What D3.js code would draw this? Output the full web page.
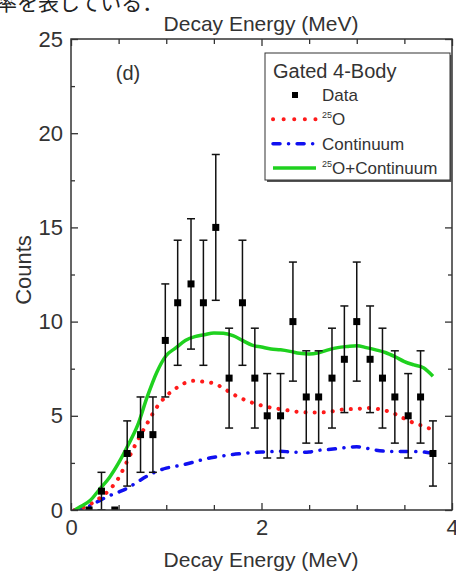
<!DOCTYPE html>
<html>
<head>
<meta charset="utf-8">
<script src="https://cdn.jsdelivr.net/npm/d3@7"></script>
<style>
  body { margin: 0; background: #fff; }
  svg { display: block; font-family: "Liberation Sans", Arial, sans-serif; }
</style>
</head>
<body>
<svg id="chart"></svg>
<script>
// data
var dataE  = [0.19, 0.32, 0.46, 0.59, 0.73, 0.86, 0.99, 1.12, 1.26, 1.39, 1.52, 1.66, 1.80, 1.93,
              2.06, 2.20, 2.33, 2.47, 2.60, 2.74, 2.87, 3.00, 3.14, 3.27, 3.40, 3.54, 3.67, 3.80];
var counts = [0, 1, 0, 3, 4, 4, 9, 11, 12, 11, 15, 7, 11, 7,
              5, 5, 10, 6, 6, 7, 8, 10, 8, 7, 6, 5, 6, 3];
var errs   = [0, 1, 0, 1.73, 2, 2, 3, 3.32, 3.46, 3.32, 3.87, 2.65, 3.32, 2.65,
              2.24, 2.24, 3.16, 2.45, 2.45, 2.65, 2.83, 3.16, 2.83, 2.65, 2.45, 2.24, 2.45, 1.73];

var fitE = [0.04, 0.1, 0.2, 0.3, 0.4, 0.5, 0.6, 0.7, 0.8, 0.9, 1.0, 1.1, 1.2, 1.3, 1.4, 1.5, 1.6, 1.7, 1.8, 1.9,
            2.0, 2.1, 2.2, 2.3, 2.4, 2.5, 2.6, 2.7, 2.8, 2.9, 3.0, 3.1, 3.2, 3.3, 3.4, 3.5, 3.6, 3.7, 3.8];
var fit25O = [0, 0.08, 0.3, 0.63, 1.05, 1.7, 2.7, 3.7, 4.6, 5.45, 6.05, 6.45, 6.75, 6.86, 6.8, 6.72, 6.46, 6.15, 5.9, 5.7,
              5.55, 5.43, 5.35, 5.27, 5.2, 5.18, 5.18, 5.2, 5.3, 5.35, 5.36, 5.42, 5.38, 5.28, 5.1, 4.85, 4.62, 4.45, 4.25];
var fitCont = [0, 0.07, 0.22, 0.5, 0.75, 0.95, 1.18, 1.5, 1.8, 2.05, 2.22, 2.32, 2.43, 2.56, 2.7, 2.8, 2.88, 2.95, 3.0, 3.05,
               3.08, 3.1, 3.12, 3.08, 3.06, 3.08, 3.17, 3.21, 3.26, 3.32, 3.36, 3.28, 3.18, 3.12, 3.1, 3.1, 3.1, 3.08, 3.0];
var fitSum = [0, 0.18, 0.5, 1.1, 1.7, 2.5, 3.45, 4.5, 6.0, 7.3, 8.2, 8.6, 9.0, 9.2, 9.3, 9.4, 9.38, 9.25, 9.0, 8.75,
              8.65, 8.55, 8.5, 8.42, 8.32, 8.28, 8.35, 8.5, 8.62, 8.68, 8.72, 8.62, 8.5, 8.36, 8.14, 7.88, 7.7, 7.55, 7.1];

var xTicks = [0, 2, 4];
var xMinor = [0.5, 1, 1.5, 2.5, 3, 3.5];
var yTicks = [0, 5, 10, 15, 20, 25];
var yMinor = [2.5, 7.5, 12.5, 17.5, 22.5];

var legendItems = ["Data", "O", "Continuum", "O+Continuum"];

var W = 456, H = 574;
var pL = 71, pR = 452, pT = 39, pB = 510;

var svg = d3.select("#chart").attr("width", W).attr("height", H);

var x = d3.scaleLinear().domain([0, 4]).range([pL, pR]);
var y = d3.scaleLinear().domain([0, 25]).range([pB, pT]);

// cut-off line of document text above the figure
svg.append("text")
  .attr("x", -4).attr("y", 10)
  .attr("font-family", "'Noto Sans CJK JP', sans-serif")
  .attr("font-size", 21).attr("fill", "#222")
  .text("率を表している．");

svg.append("defs").append("clipPath").attr("id", "plot")
  .append("rect").attr("x", pL).attr("y", pT)
  .attr("width", pR - pL).attr("height", pB - pT);

// curves
var line = d3.line()
  .x(function(d, i) { return x(fitE[i]); })
  .y(function(d) { return y(d); })
  .curve(d3.curveMonotoneX);

var curves = svg.append("g").attr("clip-path", "url(#plot)").attr("fill", "none");
curves.append("path").datum(fitCont).attr("d", line)
  .attr("stroke", "#1010f0").attr("stroke-width", 3.5)
  .attr("stroke-linecap", "round").attr("stroke-dasharray", "7 8.5 0.1 8.5");
curves.append("path").datum(fit25O).attr("d", line)
  .attr("stroke", "#ff1a1a").attr("stroke-width", 4)
  .attr("stroke-linecap", "round").attr("stroke-dasharray", "0.1 9");
curves.append("path").datum(fitSum).attr("d", line)
  .attr("stroke", "#1fd11f").attr("stroke-width", 3.5);

// data with error bars
var pts = svg.append("g").attr("clip-path", "url(#plot)")
  .selectAll("g").data(counts).enter().append("g");

pts.each(function(d, i) {
  var g = d3.select(this);
  var cx = x(dataE[i]);
  if (errs[i] > 0) {
    var y1 = y(d + errs[i]), y2 = y(d - errs[i]);
    g.append("line").attr("x1", cx).attr("x2", cx).attr("y1", y1).attr("y2", y2);
    g.append("line").attr("x1", cx - 4).attr("x2", cx + 4).attr("y1", y1).attr("y2", y1);
    g.append("line").attr("x1", cx - 4).attr("x2", cx + 4).attr("y1", y2).attr("y2", y2);
  }
  g.selectAll("line").attr("stroke", "#111").attr("stroke-width", 1.5);
  g.append("rect").attr("x", cx - 3.5).attr("y", y(d) - 3.5)
    .attr("width", 7).attr("height", 7).attr("fill", "#000");
});

// axes
function styleAxis(g) {
  g.select(".domain").remove();
  g.selectAll("line").attr("stroke", "#333").attr("stroke-width", 1.3);
  g.selectAll("text").attr("fill", "#333").attr("font-size", 22)
    .attr("font-family", "'Liberation Sans', Arial, sans-serif");
}

svg.append("g").attr("transform", "translate(0," + pB + ")")
  .call(d3.axisBottom(x).tickValues(xTicks).tickSize(-7).tickPadding(9).tickFormat(d3.format("d")))
  .call(styleAxis);
svg.append("g").attr("transform", "translate(0," + pB + ")")
  .call(d3.axisBottom(x).tickValues(xMinor).tickSize(-5).tickFormat(""))
  .call(styleAxis);
svg.append("g").attr("transform", "translate(0," + pT + ")")
  .call(d3.axisTop(x).tickValues(xTicks).tickSize(-7).tickFormat(""))
  .call(styleAxis);
svg.append("g").attr("transform", "translate(0," + pT + ")")
  .call(d3.axisTop(x).tickValues(xMinor).tickSize(-5).tickFormat(""))
  .call(styleAxis);
svg.append("g").attr("transform", "translate(" + pL + ",0)")
  .call(d3.axisLeft(y).tickValues(yTicks).tickSize(-7).tickPadding(8))
  .call(styleAxis);
svg.append("g").attr("transform", "translate(" + pL + ",0)")
  .call(d3.axisLeft(y).tickValues(yMinor).tickSize(-4).tickFormat(""))
  .call(styleAxis);
svg.append("g").attr("transform", "translate(" + pR + ",0)")
  .call(d3.axisRight(y).tickValues(yTicks).tickSize(-7).tickFormat(""))
  .call(styleAxis);
svg.append("g").attr("transform", "translate(" + pR + ",0)")
  .call(d3.axisRight(y).tickValues(yMinor).tickSize(-4).tickFormat(""))
  .call(styleAxis);

svg.append("rect").attr("x", pL).attr("y", pT)
  .attr("width", pR - pL).attr("height", pB - pT)
  .attr("fill", "none").attr("stroke", "#333").attr("stroke-width", 1.5);

// titles
svg.append("text").attr("x", 261).attr("y", 31).attr("text-anchor", "middle")
  .attr("font-size", 21).attr("fill", "#333").text("Decay Energy (MeV)");
svg.append("text").attr("x", 261).attr("y", 567).attr("text-anchor", "middle")
  .attr("font-size", 21).attr("fill", "#333").text("Decay Energy (MeV)");
svg.append("text").attr("transform", "translate(31,270) rotate(-90)")
  .attr("text-anchor", "middle").attr("font-size", 22).attr("fill", "#333").text("Counts");
svg.append("text").attr("x", 128).attr("y", 80).attr("text-anchor", "middle")
  .attr("font-size", 20).attr("fill", "#333").text("(d)");

// legend
var lg = svg.append("g");
lg.append("rect").attr("x", 267).attr("y", 55).attr("width", 185).attr("height", 127).attr("fill", "#555");
lg.append("rect").attr("x", 265).attr("y", 53).attr("width", 185).attr("height", 127)
  .attr("fill", "#fff").attr("stroke", "#333").attr("stroke-width", 1);
lg.append("text").attr("x", 273).attr("y", 78).attr("font-size", 20).attr("fill", "#333").text("Gated 4-Body");

var rowY = d3.scalePoint().domain(legendItems).range([101, 174]);
legendItems.forEach(function(name, i) {
  var by = rowY(name), my = by - 6;
  if (i === 0) {
    lg.append("rect").attr("x", 292).attr("y", my - 3).attr("width", 6).attr("height", 6).attr("fill", "#000");
  } else {
    var ln = lg.append("line").attr("x1", 273).attr("x2", 316).attr("y1", my).attr("y2", my)
      .attr("stroke-width", 3.5);
    if (i === 1) ln.attr("stroke", "#ff1a1a").attr("stroke-linecap", "round").attr("stroke-dasharray", "0.1 10.5").attr("stroke-width", 4);
    if (i === 2) ln.attr("stroke", "#1010f0").attr("stroke-linecap", "round").attr("stroke-dasharray", "7 8.5 0.1 8.5");
    if (i === 3) ln.attr("stroke", "#1fd11f");
  }
  var t = lg.append("text").attr("x", 322).attr("y", by).attr("font-size", 17).attr("fill", "#333");
  if (i === 1 || i === 3) {
    t.append("tspan").attr("font-size", 9).attr("dy", -7).text("25");
    t.append("tspan").attr("dy", 7).text(name);
  } else {
    t.text(name);
  }
});
</script>
</body>
</html>
